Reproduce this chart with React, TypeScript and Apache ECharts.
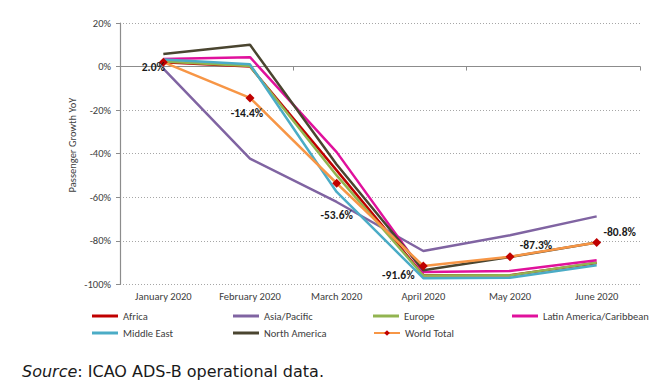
import React, { useEffect, useRef } from "react";
import * as echarts from "echarts";

const categories = ["January 2020", "February 2020", "March 2020", "April 2020", "May 2020", "June 2020"];
const africa = [2.0, 0.0, -47.7, -95.8, -95.8, -90.2];
const asiaPacific = [-1.0, -42.3, -62.2, -84.7, -77.5, -68.8];
const europe = [2.3, 0.2, -50.0, -96.0, -95.9, -90.0];
const latinAmerica = [3.5, 4.3, -39.3, -94.4, -93.9, -89.0];
const middleEast = [3.2, 1.0, -57.6, -97.2, -97.0, -91.3];
const northAmerica = [5.8, 10.0, -45.0, -93.5, -87.5, -80.8];
const worldTotal = [2.0, -14.4, -53.6, -91.6, -87.3, -80.8];
const worldLabelOffsets: [number, number][] = [[-10, 4.5], [-3, 15], [0, 32], [-25, 9], [26, -12], [23, -10]];
const yTicks = { min: -100, max: 20, interval: 20 };

const FONT = "Carlito, Lato, 'Liberation Sans', sans-serif";

const seriesDefs = [
  { name: "Africa", data: africa, color: "#C00000" },
  { name: "Asia/Pacific", data: asiaPacific, color: "#8064A2" },
  { name: "Europe", data: europe, color: "#92B450" },
  { name: "Latin America/Caribbean", data: latinAmerica, color: "#E0119C" },
  { name: "Middle East", data: middleEast, color: "#4BACC6" },
  { name: "North America", data: northAmerica, color: "#4A4530" },
  { name: "World Total", data: worldTotal, color: "#F79646" },
];

const legendPos = [
  [92, 310.5], [233, 310.5], [373, 310.5], [512, 310.5],
  [92, 327.5], [233, 327.5], [373, 327.5],
];

export default function App() {
  const ref = useRef<HTMLDivElement>(null);
  useEffect(() => {
    if (!ref.current) return;
    const chart = echarts.init(ref.current, undefined, { renderer: "svg" });
    const series: any[] = seriesDefs.map((s) => {
      const isWorld = s.name === "World Total";
      return {
        name: s.name,
        type: "line",
        xAxisIndex: 0,
        yAxisIndex: 0,
        symbol: isWorld ? "diamond" : "none",
        symbolSize: 9,
        showSymbol: isWorld,
        itemStyle: { color: isWorld ? "#C00000" : s.color },
        lineStyle: { color: s.color, width: 2.5 },
        emphasis: { disabled: true },
        data: isWorld
          ? s.data.map((v, i) => ({
              value: v,
              label: {
                show: true,
                position: "inside",
                offset: worldLabelOffsets[i],
                formatter: v.toFixed(1) + "%",
                fontFamily: FONT,
                fontWeight: "bold",
                fontSize: 11.5,
                color: "#1a1a1a",
              },
            }))
          : s.data,
      };
    });
    const legends = seriesDefs.map((s, i) => {
      const isWorld = s.name === "World Total";
      return {
        data: [isWorld ? { name: s.name } : { name: s.name, icon: "rect" }],
        left: legendPos[i][0],
        top: legendPos[i][1],
        padding: 0,
        itemWidth: 26,
        itemHeight: isWorld ? 7 : 3,
        selectedMode: false,
        textStyle: { fontFamily: FONT, fontSize: 10.5, color: "#404040" },
        itemStyle: isWorld ? { color: "#C00000" } : { color: s.color },
      };
    });
    chart.setOption({
      animation: false,
      grid: { left: 120, right: 28, top: 23, bottom: 102.7, containLabel: false },
      xAxis: [
        {
          type: "category",
          data: categories,
          position: "bottom",
          boundaryGap: true,
          axisLine: { show: false, onZero: false },
          axisTick: { show: false },
          axisLabel: { interval: 0, fontFamily: FONT, fontSize: 10.5, color: "#404040", margin: 7 },
        },
        {
          type: "category",
          data: categories,
          position: "top",
          boundaryGap: true,
          axisLine: { show: true, onZero: true, lineStyle: { color: "#8c8c8c", width: 1.2 } },
          axisTick: { show: true, inside: true, length: 4, lineStyle: { color: "#8c8c8c" } },
          axisLabel: { show: false },
        },
      ],
      yAxis: {
        type: "value",
        min: yTicks.min,
        max: yTicks.max,
        interval: yTicks.interval,
        axisLine: { show: true, lineStyle: { color: "#8c8c8c", width: 1.2 } },
        axisTick: { show: true, length: 4, lineStyle: { color: "#8c8c8c" } },
        axisLabel: {
          formatter: "{value}%",
          fontFamily: FONT,
          fontSize: 10.5,
          color: "#404040",
          margin: 9,
        },
        splitLine: { show: true, lineStyle: { color: "#a6a6a6", type: [1, 2], width: 1 } },
      },
      legend: legends,
      series,
      graphic: [
        {
          type: "text",
          x: 72,
          y: 145,
          rotation: Math.PI / 2,
          style: {
            text: "Passenger Growth YoY",
            fontFamily: FONT,
            fontSize: 10.5,
            fill: "#404040",
            textAlign: "center",
            textVerticalAlign: "middle",
          },
        },
        {
          type: "text",
          x: 22,
          y: 371,
          style: {
            text: "{i|Source}{n|: ICAO ADS-B operational data.}",
            textVerticalAlign: "middle",
            rich: {
              i: { fontFamily: "Verdana, 'DejaVu Sans', sans-serif", fontSize: 16, fontStyle: "italic", fill: "#1a1a1a" },
              n: { fontFamily: "Verdana, 'DejaVu Sans', sans-serif", fontSize: 16, fill: "#1a1a1a" },
            },
          },
        },
      ],
    });
    return () => chart.dispose();
  }, []);
  return (
    <div
      ref={ref}
      style={{ position: "fixed", left: 0, top: 0, width: 668, height: 387, background: "#fff" }}
    />
  );
}
